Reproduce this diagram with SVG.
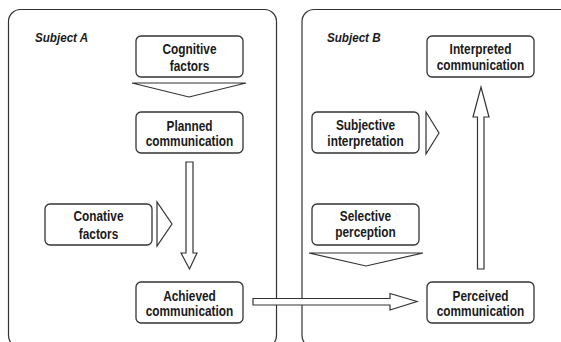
<svg xmlns="http://www.w3.org/2000/svg" width="561" height="342" viewBox="0 0 561 342">
<style>
.panel{fill:#fff;stroke:#333;stroke-width:1.2}
.box{fill:#fff;stroke:#333;stroke-width:1.3}
.arr{fill:#fff;stroke:#333;stroke-width:1.2;stroke-linejoin:miter}
.t{font-family:"Liberation Sans",Arial,sans-serif;font-weight:bold;font-size:15px;fill:#1a1a1a;text-anchor:middle}
.lbl{font-family:"Liberation Sans",Arial,sans-serif;font-weight:bold;font-style:italic;font-size:12.5px;fill:#1a1a1a}
</style>
<rect width="561" height="342" fill="#fff"/>
<g id="subjectA">
<rect class="panel" x="8.5" y="9.5" width="268" height="338" rx="12"/>
<text class="lbl" transform="translate(35,42) scale(0.93,1)">Subject A</text>
</g>
<g id="subjectB">
<rect class="panel" x="302" y="9.5" width="280" height="338" rx="12"/>
<text class="lbl" transform="translate(327,42) scale(0.93,1)">Subject B</text>
</g>
<g id="connectors">
<polygon class="arr" points="132,83 246,83 189,97"/>
<path class="arr" d="M186,162 H193 V253 H197 L189.5,269 L181,253 H186 Z"/>
<polygon class="arr" points="157,202 157,246 172,224"/>
<path class="arr" d="M253,298.5 H390 V293.5 L417,301.5 L390,310 V305 H253 Z"/>
<polygon class="arr" points="426,112 426,154 439,133"/>
<path class="arr" d="M477.5,269 V117 H473 L481,87 L489,117 H484 V269 Z"/>
<polygon class="arr" points="309,253 423,253 366,266"/>
</g>
<g id="cognitive">
<rect class="box" x="136" y="36" width="107" height="41" rx="5"/>
<text class="t" transform="translate(189.5,53.5) scale(0.79,1)">Cognitive</text>
<text class="t" transform="translate(189.5,71) scale(0.79,1)">factors</text>
</g>
<g id="planned">
<rect class="box" x="136" y="112" width="107" height="41" rx="5"/>
<text class="t" transform="translate(189.5,130.5) scale(0.79,1)">Planned</text>
<text class="t" transform="translate(189.5,146) scale(0.79,1)">communication</text>
</g>
<g id="conative">
<rect class="box" x="45" y="204" width="107" height="41" rx="5"/>
<text class="t" transform="translate(98.5,221) scale(0.79,1)">Conative</text>
<text class="t" transform="translate(98.5,238.5) scale(0.79,1)">factors</text>
</g>
<g id="achieved">
<rect class="box" x="136" y="282" width="107" height="41" rx="5"/>
<text class="t" transform="translate(189.5,300.5) scale(0.79,1)">Achieved</text>
<text class="t" transform="translate(189.5,316) scale(0.79,1)">communication</text>
</g>
<g id="interpreted">
<rect class="box" x="427" y="36" width="107" height="41" rx="5"/>
<text class="t" transform="translate(480.5,53.5) scale(0.79,1)">Interpreted</text>
<text class="t" transform="translate(480.5,70) scale(0.79,1)">communication</text>
</g>
<g id="subjective">
<rect class="box" x="312" y="112" width="107" height="41" rx="5"/>
<text class="t" transform="translate(365.5,129.5) scale(0.79,1)">Subjective</text>
<text class="t" transform="translate(365.5,146) scale(0.79,1)">interpretation</text>
</g>
<g id="selective">
<rect class="box" x="312" y="204" width="107" height="41" rx="5"/>
<text class="t" transform="translate(365.5,221) scale(0.79,1)">Selective</text>
<text class="t" transform="translate(365.5,237) scale(0.79,1)">perception</text>
</g>
<g id="perceived">
<rect class="box" x="427" y="282" width="107" height="41" rx="5"/>
<text class="t" transform="translate(480.5,300.5) scale(0.79,1)">Perceived</text>
<text class="t" transform="translate(480.5,316) scale(0.79,1)">communication</text>
</g>
</svg>
